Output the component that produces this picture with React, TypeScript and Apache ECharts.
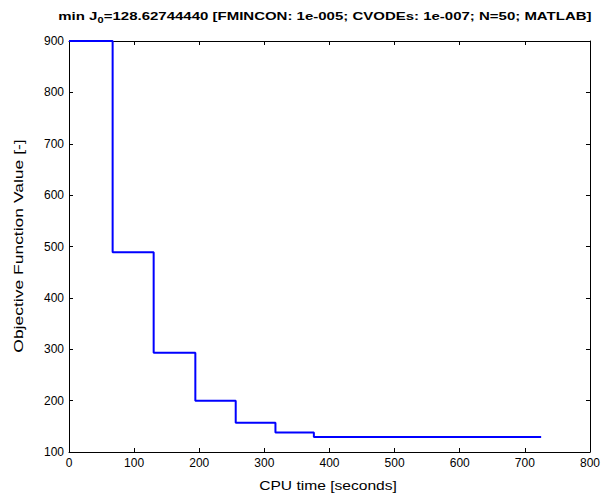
import React, { useEffect, useRef } from "react";
import * as echarts from "echarts";

const cpuTime = [0, 67, 130, 194, 256, 317, 376, 725];
const objective = [900, 489, 293, 200, 157, 138, 129, 129];
const xTicks = [0, 100, 200, 300, 400, 500, 600, 700, 800];
const yTicks = [100, 200, 300, 400, 500, 600, 700, 800, 900];
const titleText = "min J{sub|0}=128.62744440 [FMINCON: 1e-005; CVODEs: 1e-007; N=50; MATLAB]";
const xName = "CPU time [seconds]";
const yName = "Objective Function Value [-]";

const FONT = "Liberation Sans, Arial, sans-serif";

export default function App() {
  const ref = useRef<HTMLDivElement>(null);
  useEffect(() => {
    if (!ref.current) return;
    const chart = echarts.init(ref.current, undefined, { renderer: "svg" });
    const data = cpuTime.map((t, i) => [t, objective[i]]);
    const baseAxis = {
      axisLine: { show: true, onZero: false, lineStyle: { color: "#000", width: 1 } },
      axisTick: { show: true, inside: true, length: 4, lineStyle: { color: "#000" } },
      splitLine: { show: false },
    };
    chart.setOption({
      animation: false,
      backgroundColor: "#fff",
      graphic: [
        {
          type: "text",
          x: 325,
          y: 16,
          scaleY: 0.78,
          style: {
            text: titleText,
            align: "center",
            verticalAlign: "middle",
            fontFamily: FONT,
            fontSize: 15,
            fontWeight: "bold",
            fill: "#000",
            rich: {
              sub: {
                fontFamily: FONT,
                fontSize: 11,
                fontWeight: "bold",
                fill: "#000",
                padding: [9, 0, 0, 0],
              },
            },
          },
        },
        {
          type: "text",
          x: 328,
          y: 486,
          scaleY: 0.8,
          style: {
            text: xName,
            align: "center",
            verticalAlign: "middle",
            fontFamily: FONT,
            fontSize: 15.6,
            fill: "#000",
          },
        },
        {
          type: "text",
          x: 18.5,
          y: 246,
          rotation: Math.PI / 2,
          scaleY: 0.74,
          style: {
            text: yName,
            align: "center",
            verticalAlign: "middle",
            fontFamily: FONT,
            fontSize: 17.5,
            fill: "#000",
          },
        },
      ],
      grid: { left: 69, right: 13, top: 41, bottom: 42, containLabel: false },
      xAxis: [
        {
          ...baseAxis,
          type: "value",
          min: xTicks[0],
          max: xTicks[xTicks.length - 1],
          interval: 100,
          position: "bottom",
          axisLabel: { fontFamily: FONT, fontSize: 12, color: "#000", margin: 5 },
        },
        {
          ...baseAxis,
          type: "value",
          min: xTicks[0],
          max: xTicks[xTicks.length - 1],
          interval: 100,
          position: "top",
          axisLabel: { show: false },
        },
      ],
      yAxis: [
        {
          ...baseAxis,
          type: "value",
          min: yTicks[0],
          max: yTicks[yTicks.length - 1],
          interval: 100,
          position: "left",
          axisLabel: { fontFamily: FONT, fontSize: 12, color: "#000", margin: 5 },
        },
        {
          ...baseAxis,
          type: "value",
          min: yTicks[0],
          max: yTicks[yTicks.length - 1],
          interval: 100,
          position: "right",
          axisLabel: { show: false },
        },
      ],
      series: [
        {
          type: "line",
          data,
          step: "end",
          showSymbol: false,
          symbol: "none",
          xAxisIndex: 0,
          yAxisIndex: 0,
          lineStyle: { color: "#0000ff", width: 2 },
        },
      ],
    });
    return () => chart.dispose();
  }, []);
  return (
    <div
      ref={ref}
      style={{ position: "fixed", left: 0, top: 0, width: 603, height: 494, background: "#fff" }}
    />
  );
}
